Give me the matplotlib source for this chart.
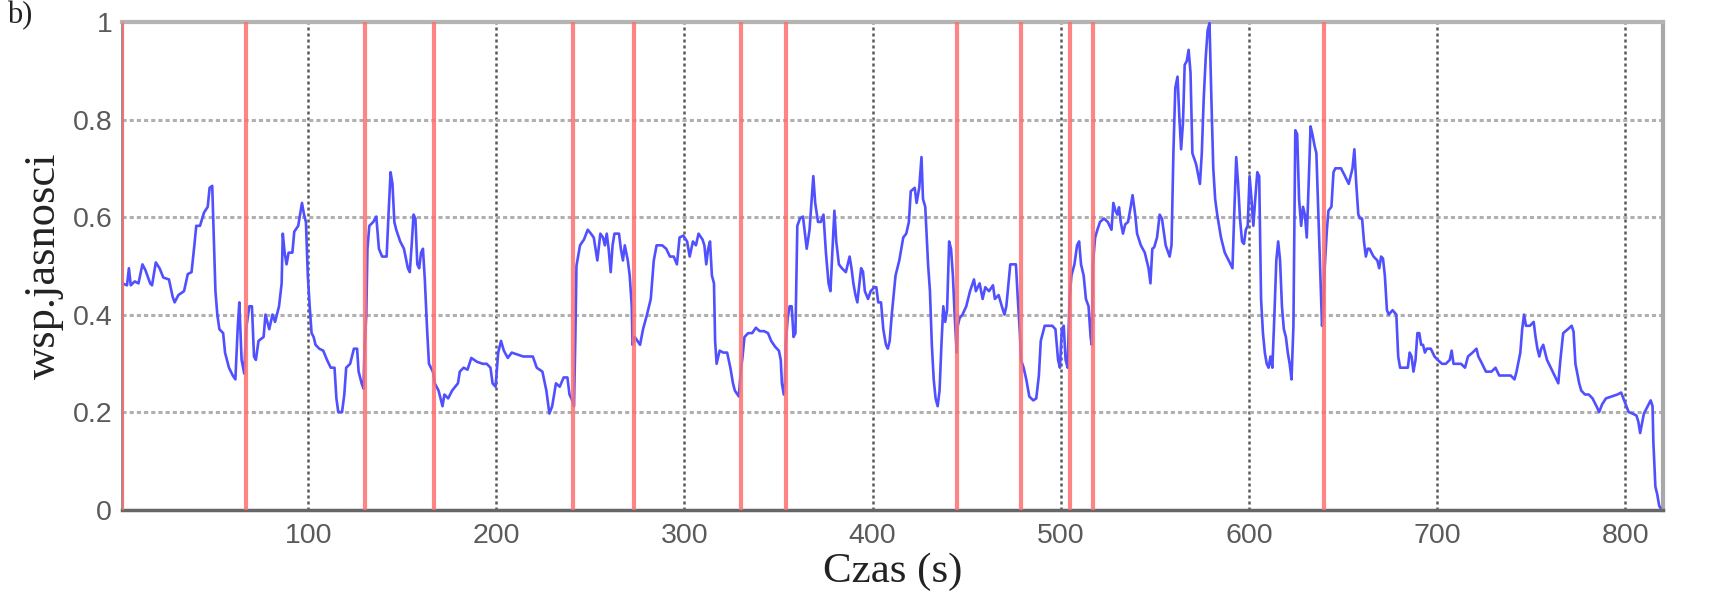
import matplotlib
matplotlib.use("Agg")
import matplotlib.pyplot as plt
import numpy as np

# --- data -------------------------------------------------------------
time_s = [
    1.2, 3.7, 4.7, 5.7, 7.8, 9.8, 11.9, 13.5, 16, 17, 19, 21, 23, 26, 28, 29, 31, 34, 36, 38,
    39.5, 40.5, 42.5, 44.6, 46.6, 47.6, 49, 49.7, 50.7, 51.7, 52.8, 54.8, 55.8, 57.9, 59.9,
    61.3, 62.6, 63.4, 64.6, 66, 67, 68.7, 70.1, 71.2, 72.2, 73.6, 76.3, 77.3, 79.3, 81, 82.4,
    84.5, 85.9, 86.5, 87.5, 88.5, 89.6, 91.6, 92.6, 94.7, 96.7, 97.8, 98.8, 99.8, 100.8,
    101.8, 102.9, 103.9, 105.9, 108, 110, 112, 114, 115, 116, 118, 119.2, 120.2, 122.3,
    124.3, 126, 126.8, 128.4, 129.4, 130, 130.9, 131.5, 132.5, 134.6, 136.2, 137.6, 139.3,
    141.7, 142.7, 143.8, 144.8, 145.8, 146.8, 148.9, 150.9, 153, 154, 155, 156, 157, 158,
    159, 160, 161, 162, 163.2, 164.2, 166.3, 167.3, 169.3, 171.4, 172.4, 174.4, 176.5,
    179.6, 180.6, 182.6, 184.7, 186.7, 189.8, 192.8, 194.9, 196.9, 198, 199.6, 201, 202.5,
    204, 206.1, 208.2, 211.2, 214.3, 219.4, 221.5, 224.5, 226.6, 228.2, 229.7, 231.7,
    233.7, 235.8, 237.8, 238.9, 239.9, 241.3, 242.0, 242.6, 244.5, 246.6, 248.6, 250.3,
    251.8, 253.7, 255.3, 256.7, 257.7, 258.7, 259.7, 260.8, 261.8, 262.8, 265.2, 266.2,
    267.3, 268.3, 269.9, 270.9, 272, 272.4, 273.6, 275, 276.4, 278, 280.1, 282.1, 283.7,
    285.2, 288.2, 290.3, 292.3, 294.3, 296, 297.4, 299.4, 301.4, 302.8, 304.5, 306.1, 307.5,
    309.6, 310.6, 311.6, 312.6, 313.6, 314.6, 315.7, 316.3, 317.1, 318.7, 320.7, 322.7,
    324.4, 325.8, 326.8, 328.9, 329.9, 330.9, 331.9, 333.9, 336, 338, 340, 342.3, 344.4,
    346.1, 348.2, 350.2, 351.2, 351.8, 352.8, 353.4, 353.8, 354.9, 355.9, 357, 358, 359, 360,
    361.4, 363, 365, 366.5, 368.5, 369.5, 371, 372.5, 373.9, 375.2, 376.6, 377.6, 378.7,
    379.7, 380.7, 382.1, 383.7, 385.8, 387.8, 388.8, 389.8, 390.9, 391.9, 393.9, 394.9,
    395.9, 397.6, 399, 401, 402, 403, 404.5, 405.7, 407.1, 408.1, 409.1, 410.2, 412.2,
    414.2, 416.3, 417.9, 419.3, 420.3, 422.4, 423.4, 424.8, 426, 426.8, 428, 429.5, 430.5,
    431.5, 432.5, 433.5, 434.6, 435.6, 436.6, 437.6, 438.6, 439.6, 440.7, 441.7, 442.7,
    443.7, 444.7, 445.3, 446.3, 447.8, 449.8, 451.8, 453.9, 454.9, 456.9, 458.5, 459.9,
    461.9, 464, 465, 467, 468.7, 470.1, 471.1, 473.2, 474.8, 476.2, 477.2, 478.3, 478.9,
    480.3, 481.7, 483.3, 485.4, 487, 488.4, 489.4, 491.5, 493.5, 495.5, 497.2, 498.6, 499.6,
    500.6, 501.6, 502.6, 503.7, 504.7, 505.7, 507.3, 508.7, 509.8, 510.8, 512.2, 513.4,
    514.8, 515.9, 516.5, 517.1, 518.3, 519.5, 520.9, 523, 525, 527, 528, 529.1, 530.1, 531,
    531.9, 533.1, 534.3, 535.8, 537.2, 538.2,
    539.6, 540.6, 542.6, 544.7, 546.7, 547.7, 548.7, 549.7, 551.2, 552.6, 553.8, 555.8,
    557.9, 558.9, 559.9, 560.9, 562.1, 563, 564, 565, 565.9, 567, 568, 569, 570, 572, 574,
    575, 576, 577.1, 578.1, 579.1, 580.1, 581.1, 582.1, 583.2, 585.2, 587.2, 589.3, 591.3,
    592.3, 593.3, 594.3, 595.3, 596.4, 597.4, 598.4, 599.4, 600.4, 601.4, 602.4, 603.4,
    604.5, 605.5, 605.9, 606.5, 607.5, 608.5, 609.5, 610.5, 611.5, 612.5, 613.6, 614.6,
    615.6, 616.6, 617.6, 618.6, 619.7, 620.7, 621.7, 622.7, 623.7, 624.7, 625.7, 626.7,
    627.8, 628.8, 629.8, 630.8, 631.8, 632.8, 633.8, 634.9, 635.9, 636.9, 637.9, 638.9,
    639.5, 640.3, 641.5, 642.3, 643.9, 645, 646, 649, 651.1, 653.1, 654.1, 655.1, 656.1,
    657.1, 658.2, 659.2, 660.2, 661.2, 662.2, 663.2, 664.2, 665.2, 666.3, 668.3, 669.3,
    670.3, 671.3, 672.3, 673.4, 674.4, 676.4, 678.4, 679.4, 680.4, 682.4, 684.5, 685.5,
    686.5, 687.5, 688.6, 689.6, 690.6, 691.6, 692.6, 693.6, 694.6, 696.7, 698.7, 700.4,
    702.7, 704.7, 706.8, 707.8, 708.8, 710.8, 712.8, 714.9, 716.5, 718.9, 721, 722, 724,
    726, 729, 731.1, 733.1, 736.2, 739.2, 741.2, 742.3, 744.3, 745.3, 746.3, 747.3, 749.4,
    751.4, 752.4, 753.4, 754.4, 755.4, 756.5, 757.5, 758.5, 759.5, 761.5, 763.5, 764.5,
    765.6, 767.1, 769.6, 771.6, 772.6, 773.6, 775.6, 776.7, 778.7, 780.7, 782.7, 784.8,
    786.2, 787.8, 789.8, 792.8, 795.9, 797.9, 799.9, 801.9, 803.9, 806, 807, 808, 810, 812,
    813.6, 814.6, 815, 816.1, 817.1, 818.1, 818.7,
]

brightness = [
    0.464, 0.46, 0.495, 0.46, 0.468, 0.464, 0.503, 0.491, 0.464, 0.46, 0.507, 0.495, 0.476,
    0.472, 0.436, 0.425, 0.44, 0.448, 0.483, 0.487,
    0.542, 0.582, 0.582, 0.609, 0.621, 0.660, 0.664, 0.574, 0.448, 0.40, 0.37, 0.362, 0.322,
    0.291, 0.275,
    0.267, 0.377, 0.425, 0.307, 0.279, 0.37, 0.417, 0.417, 0.314, 0.307, 0.346, 0.354, 0.40,
    0.37, 0.40, 0.385,
    0.417, 0.464, 0.566, 0.527, 0.503, 0.527, 0.527, 0.57, 0.582, 0.629, 0.605, 0.59, 0.48,
    0.417,
    0.362, 0.354, 0.338, 0.33, 0.326, 0.307, 0.291, 0.291, 0.228, 0.20, 0.20, 0.236, 0.291,
    0.299,
    0.33, 0.33, 0.283, 0.259, 0.248, 0.338, 0.40, 0.535, 0.582, 0.59, 0.601, 0.535, 0.519,
    0.519, 0.605, 0.692, 0.668, 0.59, 0.574, 0.55, 0.535, 0.495, 0.487, 0.542, 0.605, 0.597,
    0.503,
    0.495, 0.527, 0.535, 0.472, 0.37, 0.299, 0.283, 0.259, 0.244, 0.212, 0.236, 0.228,
    0.244,
    0.259, 0.283, 0.291, 0.287, 0.311, 0.303, 0.299, 0.299, 0.291, 0.259, 0.252, 0.322,
    0.346,
    0.326, 0.311, 0.322, 0.318, 0.314, 0.314, 0.291, 0.283, 0.244, 0.197, 0.212, 0.259,
    0.252, 0.271, 0.271, 0.236, 0.228, 0.212, 0.35, 0.50, 0.542, 0.554, 0.574, 0.566,
    0.558, 0.511, 0.566, 0.558, 0.542, 0.566, 0.535, 0.487, 0.542, 0.566, 0.566, 0.535,
    0.511, 0.542, 0.511, 0.48, 0.417, 0.338, 0.354, 0.346, 0.338, 0.37, 0.40, 0.432, 0.511,
    0.542, 0.542, 0.535, 0.519, 0.519, 0.503, 0.558, 0.562, 0.55, 0.519, 0.55, 0.542, 0.566,
    0.554, 0.542, 0.503, 0.535, 0.55, 0.48, 0.464, 0.346, 0.299, 0.326, 0.322, 0.322,
    0.291, 0.259, 0.244, 0.232, 0.283, 0.314, 0.354, 0.362, 0.362, 0.373, 0.366, 0.366,
    0.362,
    0.346, 0.334, 0.326, 0.307, 0.259, 0.236, 0.259, 0.338, 0.393, 0.417, 0.417, 0.354,
    0.362, 0.582,
    0.597, 0.601, 0.535, 0.574, 0.684, 0.629, 0.59, 0.59, 0.605, 0.527, 0.464, 0.448, 0.535,
    0.613, 0.55, 0.503, 0.495, 0.487, 0.519, 0.495, 0.464, 0.44, 0.425, 0.495, 0.488,
    0.448, 0.432, 0.448, 0.456, 0.456, 0.425, 0.425, 0.37, 0.338, 0.33, 0.346, 0.40, 0.48,
    0.511, 0.558, 0.566, 0.59, 0.653, 0.66, 0.629, 0.66, 0.723, 0.637, 0.621, 0.503, 0.448,
    0.338, 0.267, 0.228, 0.212, 0.244, 0.338, 0.417, 0.385, 0.409, 0.55, 0.535, 0.48,
    0.393, 0.322, 0.377, 0.393, 0.40, 0.417, 0.448, 0.472, 0.448, 0.464, 0.432, 0.456,
    0.448, 0.46, 0.432, 0.44, 0.417, 0.40, 0.417, 0.503, 0.503, 0.503, 0.432, 0.362, 0.307,
    0.291, 0.267, 0.232, 0.224, 0.228, 0.275, 0.346, 0.377, 0.377, 0.377, 0.37, 0.307, 0.291,
    0.37, 0.377, 0.307, 0.291, 0.432, 0.48, 0.503, 0.542, 0.55, 0.503, 0.48, 0.432,
    0.417, 0.354, 0.338, 0.503, 0.558, 0.574, 0.59, 0.597, 0.59, 0.574, 0.629, 0.613, 0.605,
    0.62,
    0.59, 0.566, 0.585, 0.59, 0.621, 0.645,
    0.605, 0.566, 0.542, 0.527, 0.495, 0.464, 0.535, 0.538, 0.558, 0.605, 0.597, 0.542,
    0.519, 0.542, 0.731, 0.865, 0.888, 0.81, 0.739, 0.794, 0.912, 0.92, 0.943, 0.896, 0.731,
    0.708, 0.668,
    0.731, 0.841, 0.928, 0.983, 0.998, 0.841, 0.70, 0.637, 0.605, 0.558, 0.527, 0.511,
    0.495,
    0.613, 0.723, 0.668, 0.597, 0.55, 0.545, 0.574, 0.582, 0.684, 0.637, 0.582, 0.637,
    0.692, 0.684, 0.582, 0.432, 0.362, 0.322, 0.299, 0.291, 0.314, 0.291, 0.40, 0.511,
    0.55, 0.511, 0.417, 0.37, 0.354, 0.322, 0.299, 0.267, 0.377, 0.778, 0.77, 0.637,
    0.582, 0.621, 0.605, 0.558, 0.668, 0.786, 0.77, 0.747, 0.731, 0.613, 0.495, 0.377,
    0.40, 0.495, 0.574, 0.613, 0.621, 0.692, 0.70, 0.70, 0.684, 0.668, 0.684, 0.70, 0.739,
    0.668, 0.605, 0.597, 0.597, 0.55, 0.519, 0.535, 0.535, 0.527, 0.519, 0.511,
    0.495, 0.519, 0.515, 0.48, 0.409, 0.40, 0.409, 0.40, 0.314, 0.291, 0.291, 0.291, 0.322,
    0.314, 0.283, 0.307, 0.362, 0.362, 0.338, 0.338, 0.322, 0.33, 0.33, 0.314, 0.307,
    0.299, 0.299, 0.307, 0.326, 0.299, 0.299, 0.299, 0.291, 0.314, 0.322, 0.33, 0.314, 0.299,
    0.283, 0.283, 0.291, 0.275, 0.275, 0.275, 0.267, 0.283, 0.322, 0.37, 0.40, 0.377, 0.377,
    0.385, 0.354, 0.33, 0.314, 0.33, 0.338, 0.322, 0.307, 0.299, 0.283, 0.267, 0.259,
    0.307, 0.362, 0.37, 0.377, 0.365, 0.299, 0.259, 0.244, 0.236, 0.236, 0.228, 0.212,
    0.20, 0.216, 0.228, 0.232, 0.236, 0.24, 0.22, 0.20, 0.197, 0.193, 0.181, 0.157, 0.197,
    0.212, 0.224, 0.212, 0.141, 0.047, 0.031, 0.008, 0.004,
]

shot_boundaries = [1, 67, 130, 167, 241, 273, 330, 354, 445, 479, 505, 517, 640]

x_ticks = [100, 200, 300, 400, 500, 600, 700, 800]
y_ticks = [0, 0.2, 0.4, 0.6, 0.8, 1]
y_tick_labels = ["0", "0.2", "0.4", "0.6", "0.8", "1"]

# --- figure -------------------------------------------------------------
fig = plt.figure(figsize=(17.32, 5.96), dpi=100)
ax = fig.add_axes([0.0704, 0.145, 0.8896, 0.818])

ax.plot(time_s, brightness, color="#5050ff", lw=1.9, zorder=3)
for b in shot_boundaries:
    ax.axvline(b, color="#ff7070", lw=3.0, alpha=0.85, zorder=4)

ax.set_xlim(1, 820)
ax.set_ylim(0, 1)
ax.set_xticks(x_ticks)
ax.set_yticks(y_ticks)
ax.set_yticklabels(y_tick_labels)

ax.xaxis.grid(True, color="#5a5a5a", ls=(0, (1.2, 1.2)), lw=1.8, zorder=1)
ax.yaxis.grid(True, color="#b0b0b0", ls=(0, (1.35, 1.0)), lw=2.2, zorder=1)
ax.set_axisbelow(True)

ax.tick_params(length=0, labelsize=20.5, labelcolor="#5a5a5a")
ax.tick_params(axis="x", pad=10)
ax.tick_params(axis="y", pad=7)
for lab in ax.get_xticklabels() + ax.get_yticklabels():
    lab.set_family(["Liberation Sans", "DejaVu Sans"])

ax.spines["top"].set_color("#b4b4b4")
ax.spines["top"].set_linewidth(3.0)
ax.spines["right"].set_color("#a8a8a8")
ax.spines["right"].set_linewidth(3.0)
ax.spines["bottom"].set_color("#666666")
ax.spines["bottom"].set_linewidth(2.5)
ax.spines["left"].set_color("#888888")
ax.spines["left"].set_linewidth(2.0)

ax.set_xlabel("Czas (s)", fontsize=31, family=["Liberation Serif", "DejaVu Serif"],
              color="#222222", labelpad=2)
ax.set_ylabel("wsp.jasnosci", fontsize=32, family=["Liberation Serif", "DejaVu Serif"],
              color="#222222", labelpad=6)

fig.text(0.004, 0.998, "b)", fontsize=22, family=["Liberation Serif", "DejaVu Serif"],
         color="#222222", ha="left", va="top")

fig.savefig("out.png", dpi=100)
